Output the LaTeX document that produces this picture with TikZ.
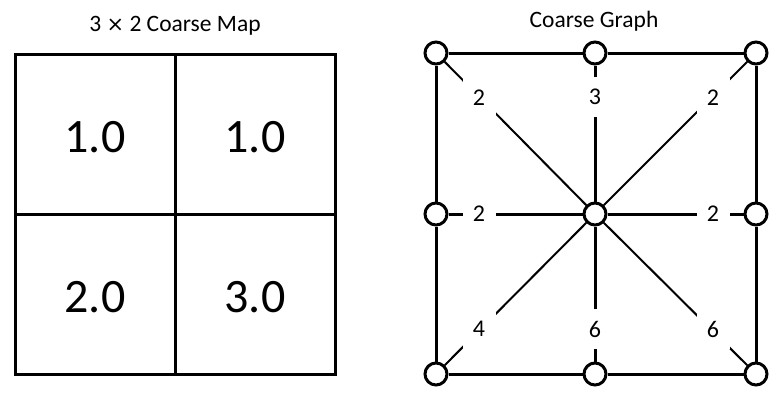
\documentclass[tikz,border=0pt]{standalone}
\usepackage{fontspec}
\setmainfont{Carlito}
\newfontfamily\symfont{DejaVu Sans}
\usetikzlibrary{calc}
\tikzset{
  vtx/.style={circle, draw, line width=3pt, fill=white, minimum size=22pt, inner sep=0pt},
  thick3/.style={line width=3pt},
  thin2/.style={line width=2pt},
  lbl/.style={fill=white, minimum width=33pt, minimum height=40pt, inner sep=0pt, font=\fontsize{24}{26}\selectfont},
  ttl/.style={anchor=base, inner sep=0pt, font=\fontsize{23.5}{27}\selectfont},
  cellnum/.style={anchor=base, inner sep=0pt, font=\fontsize{48}{56}\selectfont},
  gridline/.style={line width=3pt, line cap=rect}
}
\begin{document}
\begin{tikzpicture}[x=1pt, y=-1pt]
\useasboundingbox (0,0) rectangle (784,413);
% ---- left: coarse map ----
\node[ttl] (maptitle) at (175,31) {3 {\symfont\fontsize{21}{24}\selectfont ×} 2 Coarse Map};
\coordinate (g00) at (15,54);
\coordinate (g22) at (335,374);
\draw[gridline] (g00) rectangle (g22);
\draw[gridline] (175,54) -- (175,374);
\draw[gridline] (15,214) -- (335,214);
\node[cellnum] (c1) at (95,152) {1.0};
\node[cellnum] (c2) at (255,152) {1.0};
\node[cellnum] (c3) at (95,312) {2.0};
\node[cellnum] (c4) at (255,312) {3.0};
% ---- right: coarse graph ----
\node[ttl] (graphtitle) at (594,27.3) {Coarse Graph};
\node[vtx] (tl) at (436,53) {};
\node[vtx] (tm) at (595,53) {};
\node[vtx] (tr) at (756,53) {};
\node[vtx] (ml) at (436,214) {};
\node[vtx] (c)  at (595,214) {};
\node[vtx] (mr) at (756,214) {};
\node[vtx] (bl) at (436,374) {};
\node[vtx] (bm) at (595,374) {};
\node[vtx] (br) at (756,374) {};
% outer edges
\draw[thick3] (tl) -- (tm);
\draw[thick3] (tm) -- (tr);
\draw[thick3] (tr) -- (mr);
\draw[thick3] (mr) -- (br);
\draw[thick3] (br) -- (bm);
\draw[thick3] (bm) -- (bl);
\draw[thick3] (bl) -- (ml);
\draw[thick3] (ml) -- (tl);
% spokes
\draw[thick3] (tm) -- (c);
\draw[thick3] (ml) -- (c);
\draw[thick3] (mr) -- (c);
\draw[thick3] (bm) -- (c);
\draw[thin2] (tl) -- (c);
\draw[thin2] (tr) -- (c);
\draw[thin2] (bl) -- (c);
\draw[thin2] (br) -- (c);
% weights
\node[lbl] (wtl) at (479,98) {2};
\node[lbl] (wtm) at (595,97) {3};
\node[lbl] (wtr) at (713,98) {2};
\node[lbl] (wml) at (479,214) {2};
\node[lbl] (wmr) at (713,214) {2};
\node[lbl] (wbl) at (479,329) {4};
\node[lbl] (wbm) at (595,329) {6};
\node[lbl] (wbr) at (713,329) {6};
\end{tikzpicture}
\end{document}
